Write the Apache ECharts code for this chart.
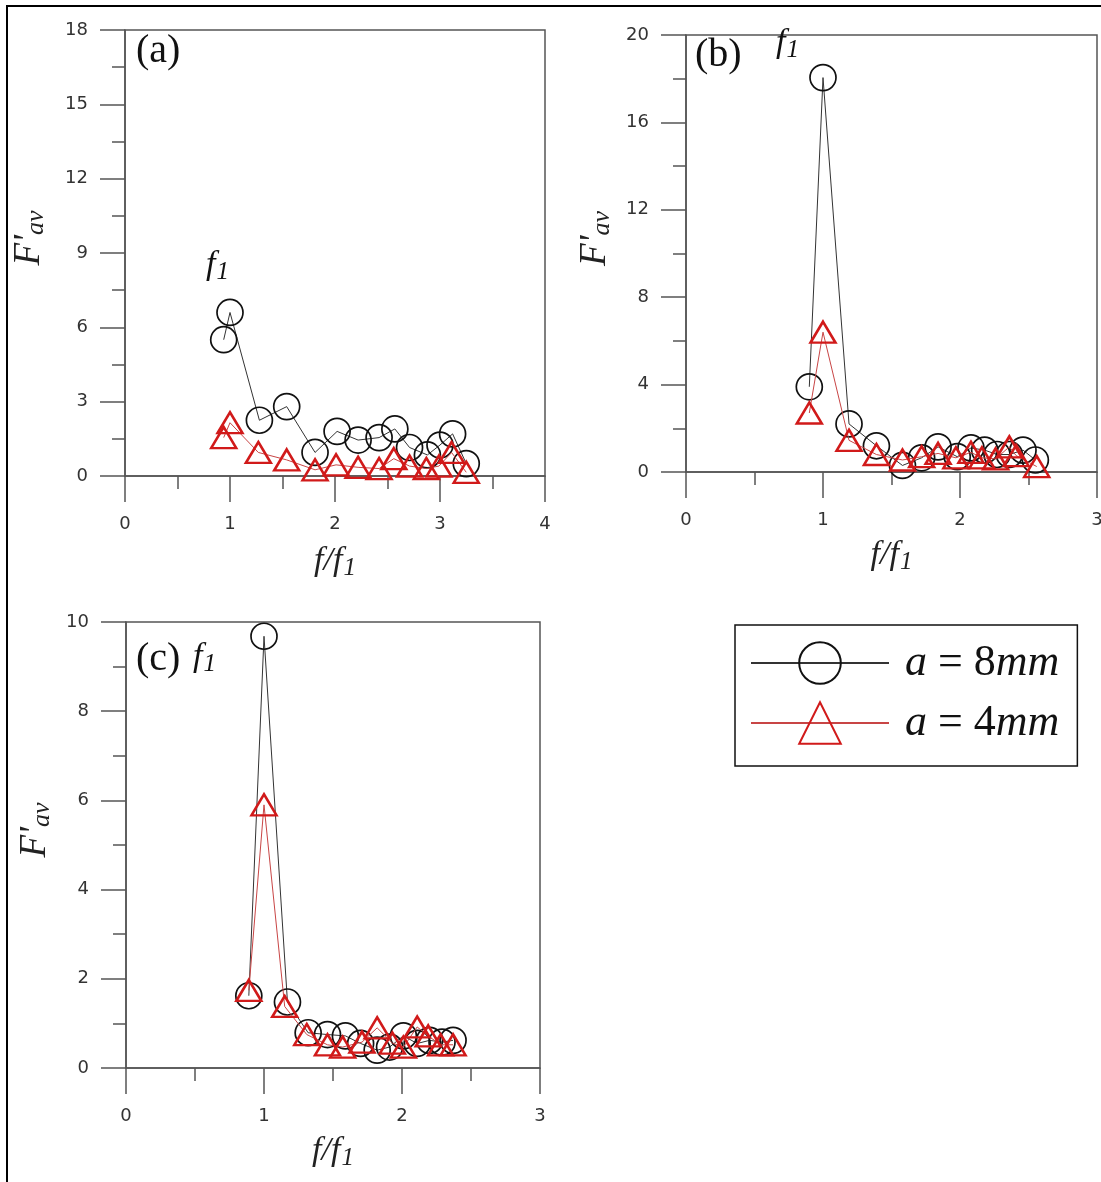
<!DOCTYPE html>
<html>
<head>
<meta charset="utf-8">
<script src="https://cdn.jsdelivr.net/npm/echarts@6/dist/echarts.min.js"></script>
<style>
html,body{margin:0;padding:0;background:#fff;}
#chart{width:1101px;height:1182px;}
</style>
</head>
<body>
<div id="chart"></div>
<script>
// ---- Data ----
// Panel (a)
const xA8 = [0.94, 1.0, 1.28, 1.54, 1.81, 2.02, 2.22, 2.42, 2.57, 2.71, 2.88, 3.0, 3.12, 3.25];
const yA8 = [5.5, 6.6, 2.25, 2.8, 0.95, 1.8, 1.45, 1.55, 1.9, 1.15, 0.85, 1.25, 1.7, 0.5];
const xA4 = [0.94, 1.0, 1.27, 1.54, 1.81, 2.01, 2.22, 2.42, 2.56, 2.71, 2.87, 2.99, 3.11, 3.25];
const yA4 = [1.55, 2.15, 0.95, 0.65, 0.25, 0.45, 0.35, 0.3, 0.7, 0.4, 0.3, 0.4, 0.95, 0.15];
// Panel (b)
const xB8 = [0.9, 1.0, 1.19, 1.39, 1.58, 1.72, 1.84, 1.98, 2.08, 2.18, 2.27, 2.36, 2.46, 2.55];
const yB8 = [3.9, 18.05, 2.2, 1.2, 0.3, 0.65, 1.15, 0.7, 1.1, 1.0, 0.8, 0.8, 1.0, 0.55];
const xB4 = [0.9, 1.0, 1.19, 1.39, 1.58, 1.72, 1.84, 1.97, 2.08, 2.16, 2.26, 2.36, 2.41, 2.56];
const yB4 = [2.7, 6.4, 1.45, 0.8, 0.55, 0.7, 0.85, 0.65, 0.9, 0.65, 0.6, 1.15, 0.75, 0.25];
// Panel (c)
const xC8 = [0.89, 1.0, 1.17, 1.32, 1.46, 1.59, 1.70, 1.82, 1.91, 2.01, 2.11, 2.20, 2.29, 2.37];
const yC8 = [1.62, 9.68, 1.48, 0.79, 0.75, 0.72, 0.55, 0.4, 0.47, 0.72, 0.55, 0.62, 0.58, 0.62];
const xC4 = [0.89, 1.0, 1.15, 1.31, 1.46, 1.57, 1.71, 1.82, 1.93, 2.01, 2.11, 2.19, 2.28, 2.37];
const yC4 = [1.74, 5.9, 1.38, 0.75, 0.52, 0.47, 0.58, 0.9, 0.56, 0.47, 0.92, 0.72, 0.52, 0.52];

const seriesNames = ['a = 8mm', 'a = 4mm'];
const panelLabels = ['(a)', '(b)', '(c)'];
const xRanges = [[0, 4, 1], [0, 3, 1], [0, 3, 1]];
const yRanges = [[0, 18, 3], [0, 20, 4], [0, 10, 2]];

// ---- Styling ----
const AXIS = '#555';
const LBL = '#333';
const SERIF = '"Liberation Serif", "Times New Roman", serif';
const SANS = '"DejaVu Sans", sans-serif';

const pair = (xs, ys) => xs.map((x, i) => [x, ys[i]]);

const grids = [
  {left: 125, top: 30, width: 420, height: 446},
  {left: 686, top: 35, width: 411, height: 437},
  {left: 126, top: 622, width: 414, height: 446}
].map(g => Object.assign({show: true, borderColor: AXIS, borderWidth: 1.5, backgroundColor: 'transparent', outerBoundsMode: 'none'}, g));

function xAxis(i) {
  const r = xRanges[i];
  return {
    type: 'value', gridIndex: i, min: r[0], max: r[1], interval: r[2],
    position: 'bottom',
    axisLine: {show: true, onZero: false, lineStyle: {color: AXIS, width: 1.5}},
    axisTick: {show: true, inside: false, length: 26, lineStyle: {color: AXIS, width: 1.5}},
    minorTick: {show: true, splitNumber: 2, length: 13, lineStyle: {color: AXIS, width: 1.5}},
    splitLine: {show: false},
    axisLabel: {color: LBL, fontFamily: SANS, fontSize: 18, margin: 39},
    name: '{i|f/f}{s|1}',
    nameLocation: 'middle',
    nameGap: [66, 64, 64][i],
    nameTextStyle: {
      rich: {
        i: {fontFamily: SERIF, fontStyle: 'italic', fontSize: 34, color: '#222'},
        s: {fontFamily: SERIF, fontStyle: 'italic', fontSize: 25, color: '#222', padding: [14, 0, 0, 1]}
      }
    }
  };
}
function yAxis(i) {
  const r = yRanges[i];
  return {
    type: 'value', gridIndex: i, min: r[0], max: r[1], interval: r[2],
    position: 'left',
    axisLine: {show: true, onZero: false, lineStyle: {color: AXIS, width: 1.5}},
    axisTick: {show: true, inside: false, length: 25, lineStyle: {color: AXIS, width: 1.5}},
    minorTick: {show: true, splitNumber: 2, length: 13, lineStyle: {color: AXIS, width: 1.5}},
    splitLine: {show: false},
    axisLabel: {color: LBL, fontFamily: SANS, fontSize: 18, margin: 37},
    name: "{F|F'}{s|av}",
    nameLocation: 'middle',
    nameRotate: 90,
    nameGap: [76, 71, 71][i],
    nameTextStyle: {
      padding: [0, 0, 0, 30],
      rich: {
        F: {fontFamily: SERIF, fontStyle: 'italic', fontSize: 37, color: '#222'},
        s: {fontFamily: SERIF, fontStyle: 'italic', fontSize: 26, color: '#222', padding: [14, 0, 0, 0]}
      }
    }
  };
}

function s8(i, data) {
  return {
    name: seriesNames[0], type: 'line', xAxisIndex: i, yAxisIndex: i, data: data,
    symbol: 'circle', symbolSize: 26,
    itemStyle: {color: 'rgba(0,0,0,0)', borderColor: '#111', borderWidth: 1.7},
    lineStyle: {color: '#333', width: 1},
    z: 2, animation: false
  };
}
function s4(i, data) {
  return {
    name: seriesNames[1], type: 'line', xAxisIndex: i, yAxisIndex: i, data: data,
    symbol: 'triangle', symbolSize: [25, 21],
    itemStyle: {color: 'rgba(0,0,0,0)', borderColor: '#d11a1a', borderWidth: 2.5},
    lineStyle: {color: '#c84545', width: 1},
    z: 3, animation: false
  };
}

function f1Text(x, y) {
  return {
    type: 'text', x: x, y: y,
    style: {
      text: '{f|f}{s|1}',
      rich: {
        f: {fontFamily: SERIF, fontStyle: 'italic', fontSize: 34, fill: '#111'},
        s: {fontFamily: SERIF, fontStyle: 'italic', fontSize: 25, fill: '#111', padding: [14, 0, 0, 1]}
      }
    }
  };
}
function panelText(t, x, y) {
  return {
    type: 'text', x: x, y: y,
    style: {text: t, fontFamily: SERIF, fontSize: 40, fill: '#111'}
  };
}

const option = {
  backgroundColor: '#fff',
  animation: false,
  grid: grids,
  xAxis: [0, 1, 2].map(xAxis),
  yAxis: [0, 1, 2].map(yAxis),
  legend: {
    data: seriesNames,
    orient: 'vertical',
    left: 735, top: 625,
    padding: [16, 18, 21, 15],
    itemWidth: 138, itemHeight: 52, itemGap: 16,
    borderColor: '#111', borderWidth: 1.5,
    backgroundColor: '#fff',
    selectedMode: false,
    formatter: function (n) {
      return n === seriesNames[0] ? '{i|a} = 8{i|mm}' : '{i|a} = 4{i|mm}';
    },
    textStyle: {
      fontFamily: SERIF, fontSize: 44, color: '#111', padding: [0, 0, 0, 11],
      rich: {
        i: {fontFamily: SERIF, fontStyle: 'italic', fontSize: 44, color: '#111'}
      }
    }
  },
  series: [
    s8(0, pair(xA8, yA8)), s4(0, pair(xA4, yA4)),
    s8(1, pair(xB8, yB8)), s4(1, pair(xB4, yB4)),
    s8(2, pair(xC8, yC8)), s4(2, pair(xC4, yC4))
  ],
  graphic: [
    {type: 'rect', shape: {x: 7, y: 6, width: 1300, height: 1400}, style: {fill: 'none', stroke: '#000', lineWidth: 2}, silent: true},
    panelText(panelLabels[0], 136, 31),
    panelText(panelLabels[1], 695, 35),
    panelText(panelLabels[2], 136, 639),
    f1Text(206, 246),
    f1Text(776, 24),
    f1Text(193, 638)
  ]
};

const chart = echarts.init(document.getElementById('chart'), null, {renderer: 'canvas'});
chart.setOption(option);
</script>
</body>
</html>
